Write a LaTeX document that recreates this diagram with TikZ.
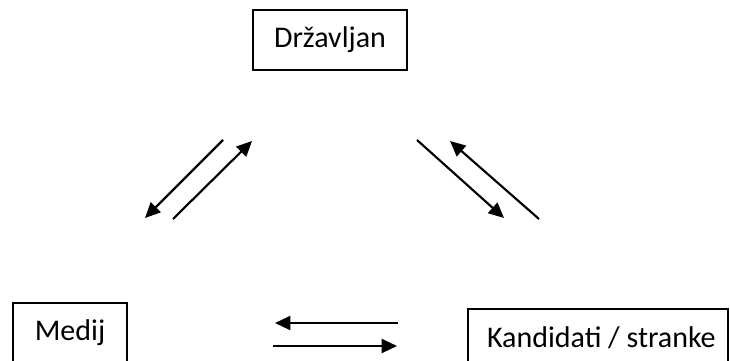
\documentclass[tikz,border=0pt]{standalone}
\usepackage{fontspec}
\setmainfont{Carlito}
\usetikzlibrary{arrows.meta}
\tikzset{
  entity/.style={draw, line width=1.5pt, inner sep=0pt, minimum height=45pt,
    font=\fontsize{22.5}{27}\selectfont},
  flow/.style={line width=1.6pt, -{Triangle[length=11.5pt,width=10.5pt]}}
}
\begin{document}
\begin{tikzpicture}[x=0.75pt, y=-0.75pt]
  \useasboundingbox (0,0) rectangle (730,360);
  % the three actors
  \node[entity, minimum width=115.5pt] (citizen) at (330,40) {Državljan};
  \node[entity, minimum width=85.5pt] (media) at (70,333) {Medij};
  \node[entity, minimum width=195pt, minimum height=43.5pt] (parties) at (598,338) {\hspace*{5pt}Kandidati / stranke};
  % end points of the exchange arrows
  \coordinate (cm1) at (223,140); \coordinate (cm2) at (145,218);
  \coordinate (mc1) at (173,219); \coordinate (mc2) at (252,141);
  \coordinate (cp1) at (417,140); \coordinate (cp2) at (504,218);
  \coordinate (pc1) at (539,219); \coordinate (pc2) at (450,141);
  \coordinate (pm1) at (398,323); \coordinate (pm2) at (275,323);
  \coordinate (mp1) at (273,346); \coordinate (mp2) at (397,346);
  % citizen <-> media
  \draw[flow] (cm1) -- (cm2);
  \draw[flow] (mc1) -- (mc2);
  % citizen <-> parties
  \draw[flow] (cp1) -- (cp2);
  \draw[flow] (pc1) -- (pc2);
  % media <-> parties
  \draw[flow] (pm1) -- (pm2);
  \draw[flow] (mp1) -- (mp2);
\end{tikzpicture}
\end{document}
